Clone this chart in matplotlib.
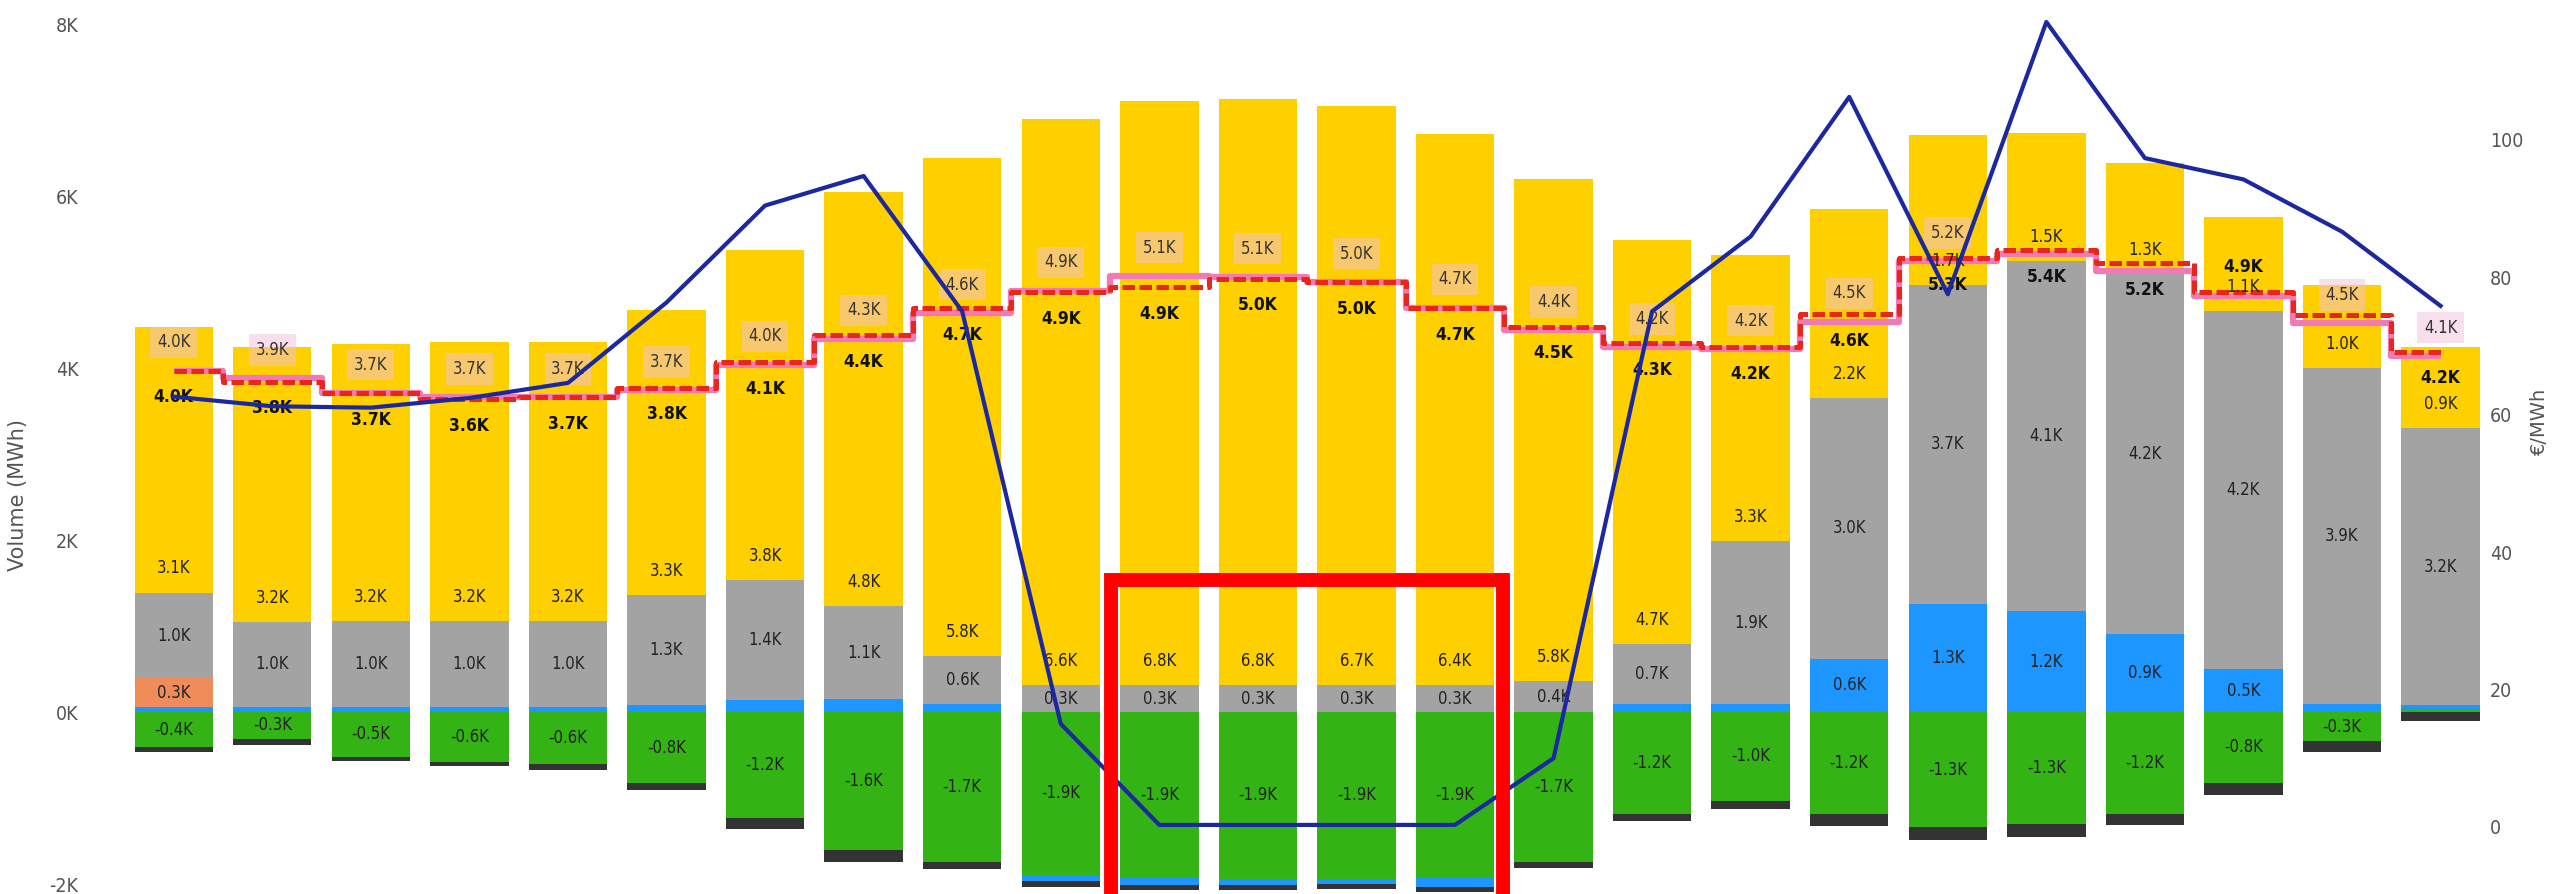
import matplotlib
matplotlib.use("Agg")
import numpy as np
import matplotlib.pyplot as plt
from matplotlib.patches import Rectangle
from matplotlib.ticker import FuncFormatter

plt.rcParams["font.family"] = ["DejaVu Sans"]
plt.rcParams["font.stretch"] = "condensed"

# hourly volumes, thousands of MWh
HOURS = list(range(1, 25))
GREEN = [-0.41, -0.31, -0.52, -0.58, -0.60, -0.83, -1.23, -1.61, -1.74, -1.89, -1.93, -1.94,
         -1.94, -1.93, -1.74, -1.19, -1.03, -1.19, -1.34, -1.30, -1.19, -0.82, -0.34, 0.03]
BLUE = [0.06, 0.06, 0.06, 0.06, 0.06, 0.08, 0.14, 0.15, 0.09, -0.07, -0.08, -0.07,
        -0.06, -0.10, 0.0, 0.09, 0.09, 0.62, 1.26, 1.17, 0.91, 0.50, 0.09, 0.05]
DARK = [-0.06, -0.07, -0.05, -0.05, -0.07, -0.08, -0.13, -0.13, -0.08, -0.07, -0.06, -0.06,
        -0.06, -0.06, -0.07, -0.08, -0.10, -0.14, -0.15, -0.15, -0.12, -0.15, -0.13, -0.10]
ORANGE = [0.33] + [0.0] * 23
GRAY = [1.00, 0.99, 1.00, 1.00, 1.00, 1.28, 1.40, 1.08, 0.56, 0.31, 0.31, 0.31,
        0.31, 0.31, 0.36, 0.70, 1.90, 3.03, 3.71, 4.07, 4.18, 4.16, 3.91, 3.22]
YELLOW = [3.09, 3.20, 3.22, 3.24, 3.24, 3.31, 3.83, 4.82, 5.79, 6.59, 6.80, 6.82,
          6.74, 6.41, 5.84, 4.70, 3.33, 2.20, 1.74, 1.49, 1.30, 1.10, 0.97, 0.94]
RED_LINE = [3.97, 3.84, 3.71, 3.64, 3.66, 3.77, 4.07, 4.38, 4.70, 4.88, 4.94, 5.04,
            5.00, 4.70, 4.48, 4.29, 4.24, 4.63, 5.28, 5.37, 5.22, 4.89, 4.62, 4.19]
PINK_LINE = [3.97, 3.88, 3.71, 3.66, 3.66, 3.74, 4.04, 4.34, 4.64, 4.90, 5.07, 5.06,
             5.00, 4.70, 4.44, 4.24, 4.22, 4.54, 5.24, 5.33, 5.13, 4.84, 4.52, 4.14]
# price, EUR/MWh
PRICE = [62.6, 61.2, 61.0, 62.4, 64.6, 76.3, 90.4, 94.7, 75.0, 15.0, 0.3, 0.3,
         0.3, 0.3, 10.0, 75.0, 85.9, 106.2, 77.5, 117.1, 97.3, 94.2, 86.6, 75.8]

C_GREEN = "#33b414"; C_BLUE = "#1e96ff"; C_DARK = "#333333"; C_ORANGE = "#f08c5a"
C_GRAY = "#a3a3a3"; C_YELLOW = "#ffd000"; C_RED = "#e8261c"; C_PINK = "#f27ab4"
C_PRICE = "#1c28a0"; C_TICK = "#555555"

HIDE_BOX = {20, 21, 22}
HIDE_BOLD = {23}
BOLD_ABOVE = {22}


def fmt(v):
    return f"{v:.1f}K"


fig = plt.figure(figsize=(25.52, 8.94), dpi=100)
ax = fig.add_axes([88 / 2552, 0, (2480 - 88) / 2552, 1])
x = np.array(HOURS)
W = 0.795

series = [(GREEN, C_GREEN, "c", 0.2), (BLUE, C_BLUE, "c", 0.4), (DARK, C_DARK, None, 0),
          (ORANGE, C_ORANGE, "c", 0.2), (GRAY, C_GRAY, "c", 0.25), (YELLOW, C_YELLOW, "base", 0.5)]
pos = np.zeros(24); neg = np.zeros(24)
for vals, col, lab, thr in series:
    v = np.array(vals)
    bottom = np.where(v >= 0, pos, neg)
    ax.bar(x, v, W, bottom=bottom, color=col, zorder=2, linewidth=0)
    for i in range(24):
        if lab is None or abs(v[i]) < thr:
            continue
        if lab == "c":
            yy = bottom[i] + v[i] / 2
        else:
            yy = bottom[i] + 0.28
        ax.text(x[i], yy, fmt(v[i]), ha="center", va="center", fontsize=12,
                color="#222222", zorder=6)
    pos = np.where(v >= 0, pos + v, pos)
    neg = np.where(v < 0, neg + v, neg)

ax.plot(x, PINK_LINE, drawstyle="steps-mid", color=C_PINK, lw=4.5, zorder=4,
        solid_capstyle="butt")
ax.plot(x, RED_LINE, drawstyle="steps-mid", color=C_RED, lw=3.6, zorder=5,
        linestyle=(0, (2.5, 0.9)))

for i, h in enumerate(HOURS):
    if h not in HIDE_BOX:
        ax.text(h, PINK_LINE[i] + 0.33, fmt(PINK_LINE[i]), ha="center", va="center",
                fontsize=12, color="#333333", zorder=7,
                bbox=dict(boxstyle="square,pad=0.4", fc=(0.94, 0.76, 0.86), alpha=0.5,
                          ec="none"))
    if h not in HIDE_BOLD:
        off = 0.29 if h in BOLD_ABOVE else -0.31
        ax.text(h, RED_LINE[i] + off, fmt(RED_LINE[i]), ha="center", va="center",
                fontsize=12.5, fontweight="bold", color="#111111", zorder=7)

ax.set_xlim(0.13, 24.40)
ax.set_ylim(-2.116, 8.28)
ax.set_yticks([-2, 0, 2, 4, 6, 8])
ax.yaxis.set_major_formatter(FuncFormatter(lambda v, p: f"{v:.0f}K"))
ax.set_xticks([])
ax.tick_params(axis="y", length=0, labelsize=14, labelcolor=C_TICK, pad=7)
for s in ax.spines.values():
    s.set_visible(False)
ax.set_ylabel("Volume (MWh)", fontsize=15, color=C_TICK, fontstretch="normal")
ax.yaxis.set_label_coords(-0.0251, 0.446)

ax2 = ax.twinx()
ax2.plot(x, PRICE, color=C_PRICE, lw=3.0, zorder=3)
ax2.set_ylim(-9.75, 120.3)
ax2.set_yticks([0, 20, 40, 60, 80, 100])
ax2.tick_params(axis="y", length=0, labelsize=14, labelcolor=C_TICK, pad=7)
for s in ax2.spines.values():
    s.set_visible(False)
ax2.set_ylabel("€/MWh", fontsize=14, color=C_TICK, fontstretch="normal")
ax2.yaxis.set_label_coords(1.0209, 0.529)

# highlight box around midday hours
rect = Rectangle((10.51, -2.6), 14.49 - 10.51, 1.53 + 2.6, transform=ax.transData,
                 fill=False, ec="#ff0000", lw=10, zorder=10, clip_on=False)
ax2.add_patch(rect)

fig.savefig("out.png", dpi=100)
